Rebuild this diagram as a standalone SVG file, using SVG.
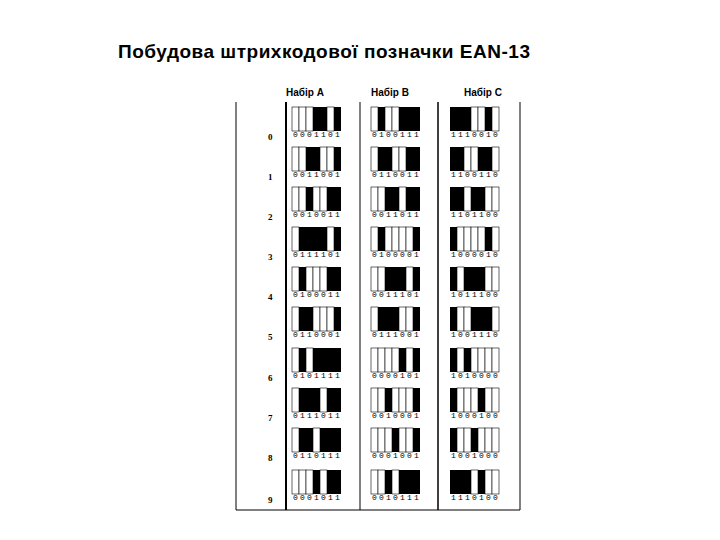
<svg xmlns="http://www.w3.org/2000/svg" xmlns:xlink="http://www.w3.org/1999/xlink" width="720" height="540" viewBox="0 0 720 540">
<style>
.t{font-family:"Liberation Sans",Arial,sans-serif;font-weight:bold;fill:#000}
.d{font-family:"Liberation Mono",monospace;font-size:8px;letter-spacing:2.2px;fill:#000}
.n{font-family:"Liberation Serif",serif;font-size:9px;font-weight:bold;fill:#000}
</style>
<defs>
<rect id="o" width="7" height="24" fill="#000"/>
<rect id="z" width="7" height="24" fill="#fff" stroke="#000" stroke-width="0.6"/>
</defs>
<rect width="720" height="540" fill="#fff"/>
<text class="t" x="324" y="58" font-size="19" text-anchor="middle" textLength="412">Побудова штрихкодової позначки EAN-13</text>
<g id="headers">
<text class="t" x="305" y="96" font-size="10" text-anchor="middle">Набір A</text>
<text class="t" x="390" y="96" font-size="10" text-anchor="middle">Набір B</text>
<text class="t" x="483" y="96" font-size="10" text-anchor="middle">Набір C</text>
</g>
<g id="grid" stroke="#000" fill="none">
<line x1="236" y1="102" x2="236" y2="510" stroke-width="1"/>
<line x1="286" y1="102" x2="286" y2="510" stroke-width="2"/>
<line x1="360" y1="102" x2="360" y2="510" stroke-width="1"/>
<line x1="438" y1="102" x2="438" y2="510" stroke-width="1.5"/>
<line x1="520" y1="102" x2="520" y2="510" stroke-width="1"/>
<line x1="236" y1="510" x2="520" y2="510" stroke-width="1"/>
</g>
<g id="labels">
<text class="n" x="268" y="140">0</text><text class="n" x="268" y="180">1</text><text class="n" x="268" y="220">2</text><text class="n" x="268" y="260">3</text><text class="n" x="268" y="300">4</text><text class="n" x="268" y="340">5</text><text class="n" x="268" y="381">6</text><text class="n" x="268" y="421">7</text><text class="n" x="268" y="461">8</text><text class="n" x="268" y="503">9</text>
</g>
<g id="setA">
<g transform="translate(292,107)"><use href="#z"/><use href="#z" x="7"/><use href="#z" x="14"/><use href="#o" x="21"/><use href="#o" x="28"/><use href="#z" x="35"/><use href="#o" x="42"/><text class="d" x="1" y="30">0001101</text></g>
<g transform="translate(292,147)"><use href="#z"/><use href="#z" x="7"/><use href="#o" x="14"/><use href="#o" x="21"/><use href="#z" x="28"/><use href="#z" x="35"/><use href="#o" x="42"/><text class="d" x="1" y="30">0011001</text></g>
<g transform="translate(292,187)"><use href="#z"/><use href="#z" x="7"/><use href="#o" x="14"/><use href="#z" x="21"/><use href="#z" x="28"/><use href="#o" x="35"/><use href="#o" x="42"/><text class="d" x="1" y="30">0010011</text></g>
<g transform="translate(292,227)"><use href="#z"/><use href="#o" x="7"/><use href="#o" x="14"/><use href="#o" x="21"/><use href="#o" x="28"/><use href="#z" x="35"/><use href="#o" x="42"/><text class="d" x="1" y="30">0111101</text></g>
<g transform="translate(292,267)"><use href="#z"/><use href="#o" x="7"/><use href="#z" x="14"/><use href="#z" x="21"/><use href="#z" x="28"/><use href="#o" x="35"/><use href="#o" x="42"/><text class="d" x="1" y="30">0100011</text></g>
<g transform="translate(292,307)"><use href="#z"/><use href="#o" x="7"/><use href="#o" x="14"/><use href="#z" x="21"/><use href="#z" x="28"/><use href="#z" x="35"/><use href="#o" x="42"/><text class="d" x="1" y="30">0110001</text></g>
<g transform="translate(292,348)"><use href="#z"/><use href="#o" x="7"/><use href="#z" x="14"/><use href="#o" x="21"/><use href="#o" x="28"/><use href="#o" x="35"/><use href="#o" x="42"/><text class="d" x="1" y="30">0101111</text></g>
<g transform="translate(292,388)"><use href="#z"/><use href="#o" x="7"/><use href="#o" x="14"/><use href="#o" x="21"/><use href="#z" x="28"/><use href="#o" x="35"/><use href="#o" x="42"/><text class="d" x="1" y="30">0111011</text></g>
<g transform="translate(292,428)"><use href="#z"/><use href="#o" x="7"/><use href="#o" x="14"/><use href="#z" x="21"/><use href="#o" x="28"/><use href="#o" x="35"/><use href="#o" x="42"/><text class="d" x="1" y="30">0110111</text></g>
<g transform="translate(292,470)"><use href="#z"/><use href="#z" x="7"/><use href="#z" x="14"/><use href="#o" x="21"/><use href="#z" x="28"/><use href="#o" x="35"/><use href="#o" x="42"/><text class="d" x="1" y="30">0001011</text></g>
</g>
<g id="setB">
<g transform="translate(371,107)"><use href="#z"/><use href="#o" x="7"/><use href="#z" x="14"/><use href="#z" x="21"/><use href="#o" x="28"/><use href="#o" x="35"/><use href="#o" x="42"/><text class="d" x="1" y="30">0100111</text></g>
<g transform="translate(371,147)"><use href="#z"/><use href="#o" x="7"/><use href="#o" x="14"/><use href="#z" x="21"/><use href="#z" x="28"/><use href="#o" x="35"/><use href="#o" x="42"/><text class="d" x="1" y="30">0110011</text></g>
<g transform="translate(371,187)"><use href="#z"/><use href="#z" x="7"/><use href="#o" x="14"/><use href="#o" x="21"/><use href="#z" x="28"/><use href="#o" x="35"/><use href="#o" x="42"/><text class="d" x="1" y="30">0011011</text></g>
<g transform="translate(371,227)"><use href="#z"/><use href="#o" x="7"/><use href="#z" x="14"/><use href="#z" x="21"/><use href="#z" x="28"/><use href="#z" x="35"/><use href="#o" x="42"/><text class="d" x="1" y="30">0100001</text></g>
<g transform="translate(371,267)"><use href="#z"/><use href="#z" x="7"/><use href="#o" x="14"/><use href="#o" x="21"/><use href="#o" x="28"/><use href="#z" x="35"/><use href="#o" x="42"/><text class="d" x="1" y="30">0011101</text></g>
<g transform="translate(371,307)"><use href="#z"/><use href="#o" x="7"/><use href="#o" x="14"/><use href="#o" x="21"/><use href="#z" x="28"/><use href="#z" x="35"/><use href="#o" x="42"/><text class="d" x="1" y="30">0111001</text></g>
<g transform="translate(371,348)"><use href="#z"/><use href="#z" x="7"/><use href="#z" x="14"/><use href="#z" x="21"/><use href="#o" x="28"/><use href="#z" x="35"/><use href="#o" x="42"/><text class="d" x="1" y="30">0000101</text></g>
<g transform="translate(371,388)"><use href="#z"/><use href="#z" x="7"/><use href="#o" x="14"/><use href="#z" x="21"/><use href="#z" x="28"/><use href="#z" x="35"/><use href="#o" x="42"/><text class="d" x="1" y="30">0010001</text></g>
<g transform="translate(371,428)"><use href="#z"/><use href="#z" x="7"/><use href="#z" x="14"/><use href="#o" x="21"/><use href="#z" x="28"/><use href="#z" x="35"/><use href="#o" x="42"/><text class="d" x="1" y="30">0001001</text></g>
<g transform="translate(371,470)"><use href="#z"/><use href="#z" x="7"/><use href="#o" x="14"/><use href="#z" x="21"/><use href="#o" x="28"/><use href="#o" x="35"/><use href="#o" x="42"/><text class="d" x="1" y="30">0010111</text></g>
</g>
<g id="setC">
<g transform="translate(450,107)"><use href="#o"/><use href="#o" x="7"/><use href="#o" x="14"/><use href="#z" x="21"/><use href="#z" x="28"/><use href="#o" x="35"/><use href="#z" x="42"/><text class="d" x="1" y="30">1110010</text></g>
<g transform="translate(450,147)"><use href="#o"/><use href="#o" x="7"/><use href="#z" x="14"/><use href="#z" x="21"/><use href="#o" x="28"/><use href="#o" x="35"/><use href="#z" x="42"/><text class="d" x="1" y="30">1100110</text></g>
<g transform="translate(450,187)"><use href="#o"/><use href="#o" x="7"/><use href="#z" x="14"/><use href="#o" x="21"/><use href="#o" x="28"/><use href="#z" x="35"/><use href="#z" x="42"/><text class="d" x="1" y="30">1101100</text></g>
<g transform="translate(450,227)"><use href="#o"/><use href="#z" x="7"/><use href="#z" x="14"/><use href="#z" x="21"/><use href="#z" x="28"/><use href="#o" x="35"/><use href="#z" x="42"/><text class="d" x="1" y="30">1000010</text></g>
<g transform="translate(450,267)"><use href="#o"/><use href="#z" x="7"/><use href="#o" x="14"/><use href="#o" x="21"/><use href="#o" x="28"/><use href="#z" x="35"/><use href="#z" x="42"/><text class="d" x="1" y="30">1011100</text></g>
<g transform="translate(450,307)"><use href="#o"/><use href="#z" x="7"/><use href="#z" x="14"/><use href="#o" x="21"/><use href="#o" x="28"/><use href="#o" x="35"/><use href="#z" x="42"/><text class="d" x="1" y="30">1001110</text></g>
<g transform="translate(450,348)"><use href="#o"/><use href="#z" x="7"/><use href="#o" x="14"/><use href="#z" x="21"/><use href="#z" x="28"/><use href="#z" x="35"/><use href="#z" x="42"/><text class="d" x="1" y="30">1010000</text></g>
<g transform="translate(450,388)"><use href="#o"/><use href="#z" x="7"/><use href="#z" x="14"/><use href="#z" x="21"/><use href="#o" x="28"/><use href="#z" x="35"/><use href="#z" x="42"/><text class="d" x="1" y="30">1000100</text></g>
<g transform="translate(450,428)"><use href="#o"/><use href="#z" x="7"/><use href="#z" x="14"/><use href="#o" x="21"/><use href="#z" x="28"/><use href="#z" x="35"/><use href="#z" x="42"/><text class="d" x="1" y="30">1001000</text></g>
<g transform="translate(450,470)"><use href="#o"/><use href="#o" x="7"/><use href="#o" x="14"/><use href="#z" x="21"/><use href="#o" x="28"/><use href="#z" x="35"/><use href="#z" x="42"/><text class="d" x="1" y="30">1110100</text></g>
</g>
</svg>
